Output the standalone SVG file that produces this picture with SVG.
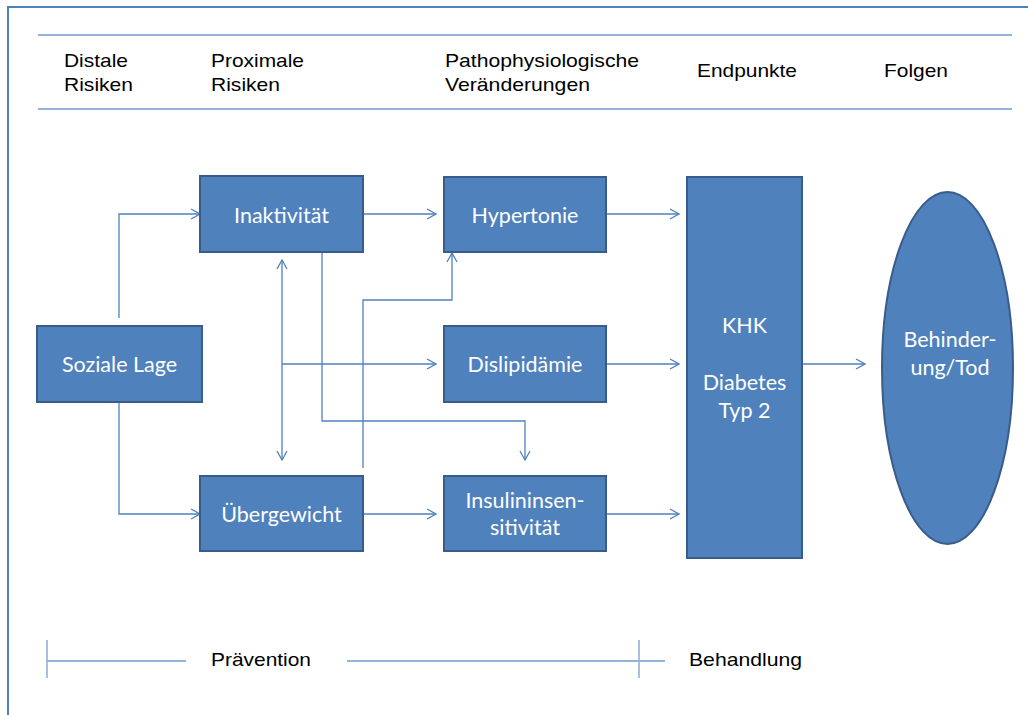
<svg xmlns="http://www.w3.org/2000/svg" width="1028" height="715" viewBox="0 0 1028 715">
  <style>
    .hdr { font-family: "Liberation Sans", Arial, sans-serif; font-size: 19px; fill: #000; }
    .box { fill: #4F81BD; stroke: #385D8A; stroke-width: 2; }
    .lbl { font-family: Lato, "Open Sans", sans-serif; font-size: 21.5px; fill: #fff; text-anchor: middle; }
    .rule { stroke: #95B3D7; stroke-width: 2; fill: none; }
    .tick { stroke: #4F81BD; stroke-width: 1; fill: none; }
    .conn { stroke: #4F81BD; stroke-width: 1.3; fill: none; }
  </style>
  <defs>
    <marker id="arr" viewBox="0 0 12 12" refX="11" refY="6" markerWidth="12" markerHeight="12" markerUnits="userSpaceOnUse" orient="auto-start-reverse">
      <path d="M2,1 L11,6 L2,11" fill="none" stroke="#4F81BD" stroke-width="1.3"/>
    </marker>
  </defs>

  <rect width="1028" height="715" fill="#fff"/>
  <!-- outer frame -->
  <path d="M8,715 V7 H1028" fill="none" stroke="#4F81BD" stroke-width="2"/>

  <!-- header -->
  <line class="rule" x1="38" y1="35" x2="1012" y2="35"/>
  <line class="rule" x1="38" y1="109" x2="1012" y2="109"/>
  <text class="hdr" x="64" y="67" textLength="64" lengthAdjust="spacingAndGlyphs">Distale</text>
  <text class="hdr" x="64" y="91" textLength="69" lengthAdjust="spacingAndGlyphs">Risiken</text>
  <text class="hdr" x="211" y="67" textLength="93" lengthAdjust="spacingAndGlyphs">Proximale</text>
  <text class="hdr" x="211" y="91" textLength="69" lengthAdjust="spacingAndGlyphs">Risiken</text>
  <text class="hdr" x="445" y="67" textLength="194" lengthAdjust="spacingAndGlyphs">Pathophysiologische</text>
  <text class="hdr" x="445" y="91" textLength="145" lengthAdjust="spacingAndGlyphs">Veränderungen</text>
  <text class="hdr" x="697" y="77" textLength="100" lengthAdjust="spacingAndGlyphs">Endpunkte</text>
  <text class="hdr" x="884" y="77" textLength="64" lengthAdjust="spacingAndGlyphs">Folgen</text>

  <!-- connectors -->
  <g id="connectors">
    <polyline class="conn" points="119,318 119,214 200,214" marker-end="url(#arr)"/>
    <polyline class="conn" points="119,402 119,514 200,514" marker-end="url(#arr)"/>
    <line class="conn" x1="363" y1="214" x2="436" y2="214" marker-end="url(#arr)"/>
    <line class="conn" x1="363" y1="514" x2="436" y2="514" marker-end="url(#arr)"/>
    <line class="conn" x1="282" y1="260" x2="282" y2="460" marker-start="url(#arr)" marker-end="url(#arr)"/>
    <line class="conn" x1="282" y1="364" x2="436" y2="364" marker-end="url(#arr)"/>
    <polyline class="conn" points="322,252 322,421 525,421 525,460" marker-end="url(#arr)"/>
    <polyline class="conn" points="363,468 363,300 452,300 452,253" marker-end="url(#arr)"/>
    <line class="conn" x1="606" y1="214" x2="679" y2="214" marker-end="url(#arr)"/>
    <line class="conn" x1="606" y1="364" x2="679" y2="364" marker-end="url(#arr)"/>
    <line class="conn" x1="606" y1="514" x2="679" y2="514" marker-end="url(#arr)"/>
    <line class="conn" x1="802" y1="364" x2="865" y2="364" marker-end="url(#arr)"/>
  </g>

  <!-- nodes -->
  <g id="soziale-lage">
    <rect class="box" x="37" y="326" width="165" height="76"/>
    <text class="lbl" x="119.5" y="372">Soziale Lage</text>
  </g>
  <g id="inaktivitaet">
    <rect class="box" x="200" y="176" width="163" height="76"/>
    <text class="lbl" x="281.5" y="223">Inaktivität</text>
  </g>
  <g id="uebergewicht">
    <rect class="box" x="200" y="476" width="163" height="75"/>
    <text class="lbl" x="281.5" y="522">Übergewicht</text>
  </g>
  <g id="hypertonie">
    <rect class="box" x="444" y="177" width="162" height="75"/>
    <text class="lbl" x="525" y="223">Hypertonie</text>
  </g>
  <g id="dislipidaemie">
    <rect class="box" x="444" y="326" width="162" height="76"/>
    <text class="lbl" x="525" y="372">Dislipidämie</text>
  </g>
  <g id="insulininsensitivitaet">
    <rect class="box" x="444" y="476" width="162" height="75"/>
    <text class="lbl" x="525" y="508">Insulininsen-</text>
    <text class="lbl" x="525" y="535">sitivität</text>
  </g>
  <g id="endpunkte">
    <rect class="box" x="687" y="177" width="115" height="381"/>
    <text class="lbl" x="744.5" y="333">KHK</text>
    <text class="lbl" x="744.5" y="390">Diabetes</text>
    <text class="lbl" x="744.5" y="418">Typ 2</text>
  </g>
  <g id="behinderung">
    <ellipse class="box" cx="947.5" cy="368" rx="65.5" ry="176"/>
    <text class="lbl" x="950" y="347">Behinder-</text>
    <text class="lbl" x="950" y="375">ung/Tod</text>
  </g>

  <!-- prevention / treatment bar -->
  <line class="tick" x1="47" y1="640" x2="47" y2="678"/>
  <line class="tick" x1="639" y1="640" x2="639" y2="678"/>
  <line class="rule" x1="47" y1="661" x2="186" y2="661"/>
  <line class="rule" x1="347" y1="661" x2="665" y2="661"/>
  <text class="hdr" x="211" y="666" textLength="100" lengthAdjust="spacingAndGlyphs">Prävention</text>
  <text class="hdr" x="689" y="666" textLength="113" lengthAdjust="spacingAndGlyphs">Behandlung</text>
</svg>
